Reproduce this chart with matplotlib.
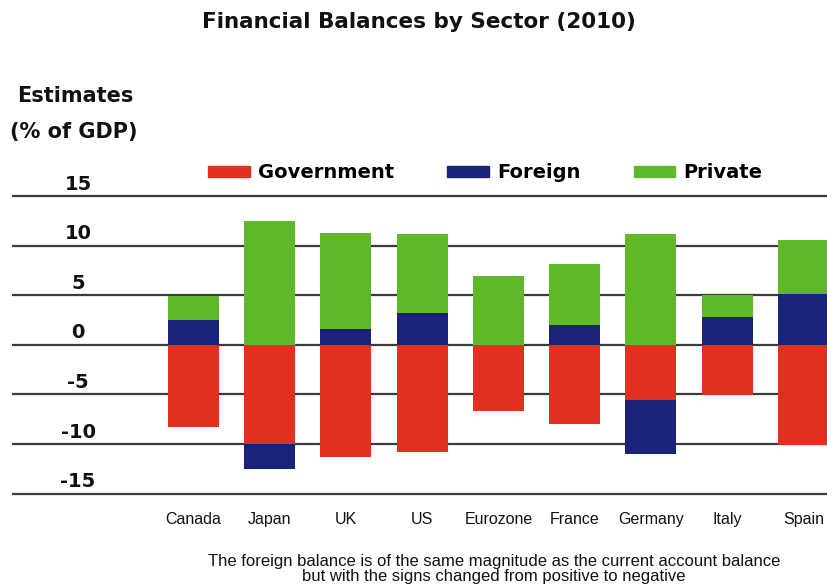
import numpy as np
import matplotlib
matplotlib.use("Agg")
import matplotlib.pyplot as plt
from matplotlib.patches import Patch
import matplotlib.transforms as mtransforms

# ---------------- Dados (% do PIB, 2010) ----------------
paises = ["Canada", "Japan", "UK", "US", "Eurozone", "France", "Germany", "Italy", "Spain"]
governo = [-8.3, -10.0, -11.3, -10.8, -6.7, -8.0, -5.6, -5.1, -10.1]
externo = [2.5, -2.5, 1.6, 3.2, 0.0, 2.0, -5.4, 2.8, 5.1]
privado = [2.4, 12.5, 9.7, 8.0, 6.9, 6.1, 11.2, 2.2, 5.5]
ticks_y = [15, 10, 5, 0, -5, -10, -15]

VERMELHO = "#e0301e"
AZUL = "#1b2378"
VERDE = "#5fb82a"
FONTE_NEGRITO = "DejaVu Sans"
FONTE_TEXTO = "Liberation Sans"

fig = plt.figure(figsize=(8.27, 5.88), dpi=100)
ax = fig.add_axes([12 / 827, 0.157, 1 - 12 / 827, 0.513])

x = np.arange(len(paises))
largura = 0.67

# empilhamento separado para positivos e negativos
base_pos = np.zeros(len(paises))
base_neg = np.zeros(len(paises))
for valores, cor in [(governo, VERMELHO), (externo, AZUL), (privado, VERDE)]:
    v = np.array(valores)
    base = np.where(v >= 0, base_pos, base_neg)
    ax.bar(x, v, largura, bottom=base, color=cor, zorder=3, linewidth=0)
    base_pos = base_pos + np.where(v > 0, v, 0)
    base_neg = base_neg + np.where(v < 0, v, 0)

# linhas de grade horizontais
for t in ticks_y:
    ax.axhline(t, color="#3a3a3a", linewidth=1.6, zorder=1)

# rótulos do eixo y acima das linhas
trans = mtransforms.blended_transform_factory(ax.transAxes, ax.transData)
for t in ticks_y:
    ax.text(0.081, t + 1.2, str(t), transform=trans, ha="center", va="center",
            fontsize=14, fontweight="bold", family=FONTE_NEGRITO, color="#111111")

ax.set_xlim(-2.38, 8.31)
ax.set_ylim(-15.2, 15.2)
ax.set_xticks(x)
ax.set_xticklabels(paises, family=FONTE_TEXTO, fontsize=11.5, color="#111111")
ax.tick_params(axis="x", length=0, pad=12)
ax.set_yticks([])
for s in ax.spines.values():
    s.set_visible(False)

# legenda
handles = [Patch(color=VERMELHO), Patch(color=AZUL), Patch(color=VERDE)]
fig.legend(handles, ["Government", "Foreign", "Private"], ncol=3,
           loc="center left", bbox_to_anchor=(208 / 827, 0.706),
           frameon=False, borderpad=0, borderaxespad=0,
           handlelength=2.15, handleheight=0.55, handletextpad=0.4,
           columnspacing=2.75,
           prop={"family": FONTE_NEGRITO, "weight": "bold", "size": 14})

# títulos e notas
fig.text(0.507, 0.962, "Financial Balances by Sector (2010)", ha="center", va="center",
         fontsize=15.5, fontweight="bold", family=FONTE_NEGRITO, color="#111111")
fig.text(0.021, 0.836, "Estimates", ha="left", va="center",
         fontsize=15, fontweight="bold", family=FONTE_NEGRITO, color="#111111")
fig.text(0.012, 0.776, "(% of GDP)", ha="left", va="center",
         fontsize=15, fontweight="bold", family=FONTE_NEGRITO, color="#111111")
fig.text(0.597, 0.032,
         "The foreign balance is of the same magnitude as the current account balance\n"
         "but with the signs changed from positive to negative",
         ha="center", va="center", fontsize=12, family=FONTE_TEXTO,
         color="#111111", linespacing=1.05)

fig.savefig("out.png", dpi=100)
